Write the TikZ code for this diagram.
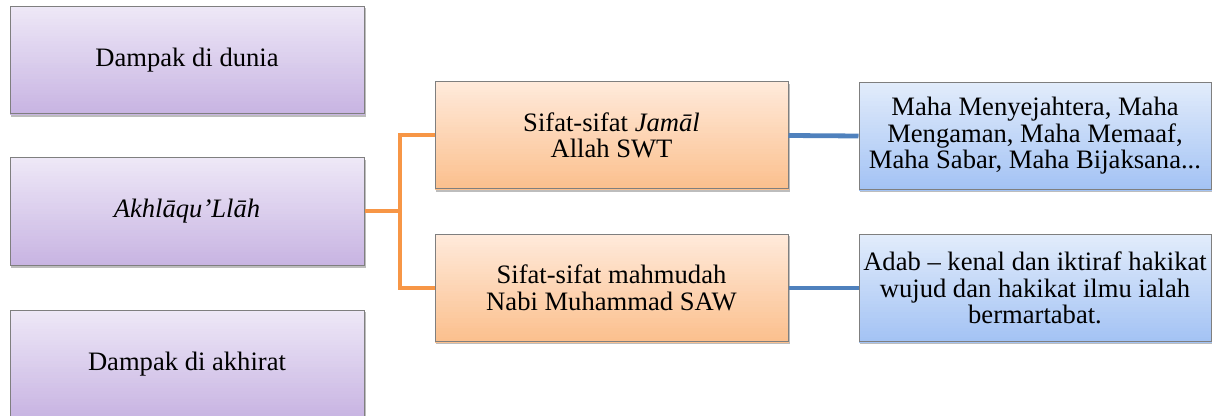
\documentclass[tikz,border=0pt]{standalone}
\usepackage{fontspec}
\setmainfont{Liberation Serif}
\usetikzlibrary{backgrounds,calc}
\definecolor{ptop}{HTML}{EEE8F7}
\definecolor{pbot}{HTML}{C7B3E2}
\definecolor{otop}{HTML}{FFEADB}
\definecolor{obot}{HTML}{FBBF8C}
\definecolor{btop}{HTML}{E2ECFB}
\definecolor{bbot}{HTML}{A2C2F4}
\definecolor{oline}{HTML}{F79646}
\definecolor{bline}{HTML}{4F81BD}
\definecolor{edge}{HTML}{7F7F7F}
\definecolor{shad}{HTML}{BDBDBD}
\newcommand\gradbox[3]{%
  \fill[shad] ([xshift=0.8pt,yshift=-1.2pt]#1.north west) rectangle ([xshift=0.8pt,yshift=-1.2pt]#1.south east);
  \foreach \i [evaluate=\i as \p using int(100-\i*2.5)] in {0,...,39}{
    \fill[#2!\p!#3] ($(#1.north west)!{\i/40}!(#1.south west)$) rectangle ($(#1.north east)!{(\i+1.2)/40}!(#1.south east)$);
  }%
}
\tikzset{
  box/.style={draw=edge, line width=0.5pt, align=center, inner sep=2pt,
    font=\rmfamily\fontsize{13.3}{13.3}\selectfont},
  pbox/.style={box, minimum width=177pt, minimum height=53.8pt},
  obox/.style={box, minimum width=176.5pt, minimum height=53.5pt},
  bbox/.style={box, minimum width=176pt, minimum height=53.5pt},
  oconn/.style={draw=oline, line width=2pt},
  bconn/.style={draw=bline, line width=2.4pt}
}
\begin{document}
\begin{tikzpicture}[x=0.5pt, y=-0.5pt]
\useasboundingbox (0,0) rectangle (1212,416);
\node[pbox] (d1) at (187,60) {Dampak di dunia};
\node[pbox] (ak) at (187,211.5) {\itshape Akhlāqu’Llāh};
\node[pbox] (d2) at (187,364) {Dampak di akhirat};
\node[obox] (o1) at (611.5,135.5) {Sifat-sifat \textit{Jamāl}\\Allah SWT};
\node[obox] (o2) at (611.5,288) {Sifat-sifat mahmudah\\Nabi Muhammad SAW};
\node[bbox] (b1) at (1035,136) {Maha Menyejahtera, Maha\\Mengaman, Maha Memaaf,\\Maha Sabar, Maha Bijaksana...};
\node[bbox] (b2) at (1035,288) {Adab – kenal dan iktiraf hakikat\\wujud dan hakikat ilmu ialah\\bermartabat.};
\begin{scope}[on background layer]
\gradbox{d1}{ptop}{pbot}
\gradbox{ak}{ptop}{pbot}
\gradbox{d2}{ptop}{pbot}
\gradbox{o1}{otop}{obot}
\gradbox{o2}{otop}{obot}
\gradbox{b1}{btop}{bbot}
\gradbox{b2}{btop}{bbot}
\end{scope}
\coordinate (j) at (400,211.5);
\draw[oconn] (ak.east) -- (j);
\draw[oconn] (o1.west) -| (j) |- (o2.west);
\draw[bconn] (o1.east) -- (b1.west);
\draw[bconn] (o2.east) -- (b2.west);
\end{tikzpicture}
\end{document}
